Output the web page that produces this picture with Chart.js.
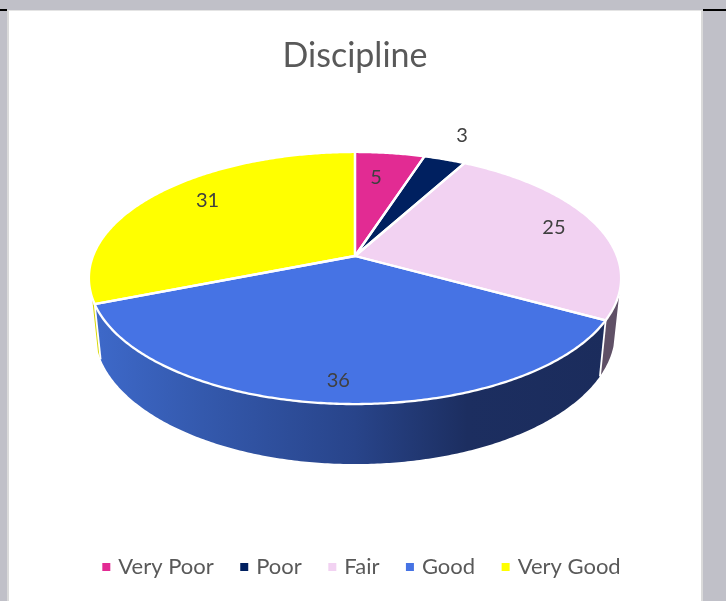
<!DOCTYPE html>
<html>
<head>
<meta charset="utf-8">
<style>
html,body{margin:0;padding:0;width:726px;height:601px;overflow:hidden;background:#c0c0c8;}
#panel{position:absolute;left:7px;top:10px;width:696px;height:591px;background:#fff;box-sizing:border-box;border-left:2px solid #dadada;border-right:2px solid #dadada;border-top:1px solid #e4e4e4;}
.blk{position:absolute;top:9px;height:2px;background:#000;}
canvas{position:absolute;left:0;top:0;}
</style>
<script src="https://cdn.jsdelivr.net/npm/chart.js@4/dist/chart.umd.min.js"></script>
</head>
<body>
<div id="panel"></div>
<div class="blk" style="left:0;width:7px"></div>
<div class="blk" style="left:703px;width:23px"></div>
<canvas id="c" width="726" height="601"></canvas>
<script>
const categories = ['Very Poor', 'Poor', 'Fair', 'Good', 'Very Good'];
const values = [5, 3, 25, 36, 31];
const sliceColors = ['#e22b93', '#002060', '#f2d2f2', '#4673e4', '#ffff00'];
const chartTitle = 'Discipline';

// Perspective of the tilted disc
const apex = {x: 355, y: 256};
const persp = 0.1746;
const topDisc = {B: 262, A: 122.2, dy: 0};
const lowDisc = {B: 256, A: 128, dy: 53};
const sideFrom = 106 * Math.PI / 180, sideTo = 251.5 * Math.PI / 180;

// Per-slice label placement: radial fraction and angular nudge (degrees)
const labelRadius = [0.724, 1.284, 0.826, 0.864, 0.787];
const labelNudge = [-1.8, -0.8, -0.6, 0, 4.8];

function project(disc, t, r) {
  const u = r * Math.sin(t), v = -r * Math.cos(t), d = 1 - persp * v;
  return {x: apex.x + disc.B * u / d, y: apex.y + disc.dy + disc.A * v / d};
}
function rim(ctx, disc, a, b, first) {
  const n = Math.max(2, Math.ceil(Math.abs(b - a) / 0.01));
  for (let i = 0; i <= n; i++) {
    const p = project(disc, a + (b - a) * i / n, 1);
    if (i === 0 && first) ctx.moveTo(p.x, p.y); else ctx.lineTo(p.x, p.y);
  }
}
function sideFill(ctx, color) {
  if (color === '#4673e4') {
    const g = ctx.createLinearGradient(100, 0, 610, 0);
    g.addColorStop(0, '#3d68c8');
    g.addColorStop(0.2, '#3459ad');
    g.addColorStop(0.5, '#28448a');
    g.addColorStop(0.72, '#1c2e60');
    g.addColorStop(1, '#1b2c5c');
    return g;
  }
  if (color === '#f2d2f2') return '#5f5066';
  if (color === '#ffff00') return '#d9d900';
  return color;
}

const disc3d = {
  id: 'disc3d',
  afterLayout(chart) { chart.titleBlock.right -= 16; },
  beforeDatasetDraw(chart, args) {
    const ctx = chart.ctx;
    const arcs = args.meta.data.map((el, i) => {
      const s = el.startAngle + Math.PI / 2, e = el.endAngle + Math.PI / 2;
      return {s, e, color: el.options.backgroundColor};
    });
    ctx.save();
    ctx.lineJoin = 'round';
    // Side wall
    arcs.forEach(a => {
      const s = Math.max(a.s, sideFrom), e = Math.min(a.e, sideTo);
      if (e <= s) return;
      ctx.beginPath();
      rim(ctx, topDisc, s, e, true);
      rim(ctx, lowDisc, e, s, false);
      ctx.closePath();
      ctx.fillStyle = sideFill(ctx, a.color);
      ctx.fill();
    });
    // Seams on the wall
    ctx.strokeStyle = '#ffffff';
    ctx.lineWidth = 1.8;
    arcs.forEach(a => {
      if (a.e > sideFrom && a.e < sideTo) {
        const p = project(topDisc, a.e, 1), q = project(lowDisc, a.e, 1);
        ctx.beginPath(); ctx.moveTo(p.x, p.y); ctx.lineTo(q.x, q.y); ctx.stroke();
      }
    });
    // Top face
    arcs.forEach(a => {
      ctx.beginPath();
      ctx.moveTo(apex.x, apex.y);
      rim(ctx, topDisc, a.s, a.e, false);
      ctx.closePath();
      ctx.fillStyle = a.color;
      ctx.fill();
    });
    arcs.forEach(a => {
      ctx.beginPath();
      ctx.moveTo(apex.x, apex.y);
      rim(ctx, topDisc, a.s, a.e, false);
      ctx.closePath();
      ctx.lineWidth = 2.3;
      ctx.strokeStyle = '#ffffff';
      ctx.stroke();
    });
    ctx.restore();
    return false;
  },
  afterDatasetsDraw(chart) {
    const ctx = chart.ctx;
    const meta = chart.getDatasetMeta(0);
    ctx.save();
    ctx.font = '20px Lato';
    ctx.fillStyle = '#404040';
    ctx.textAlign = 'center';
    ctx.textBaseline = 'middle';
    meta.data.forEach((el, i) => {
      const mid = (el.startAngle + el.endAngle) / 2 + Math.PI / 2 + labelNudge[i] * Math.PI / 180;
      const p = project(topDisc, mid, labelRadius[i]);
      ctx.fillText(String(values[i]), p.x, p.y);
    });
    ctx.restore();
  }
};

new Chart(document.getElementById('c'), {
  type: 'pie',
  data: {
    labels: categories,
    datasets: [{data: values, backgroundColor: sliceColors, borderColor: '#ffffff', borderWidth: 1.5}]
  },
  options: {
    responsive: false,
    animation: false,
    layout: {padding: {top: 26, bottom: 13, left: 0, right: 0}},
    plugins: {
      tooltip: {enabled: false},
      title: {
        display: true,
        text: chartTitle,
        color: '#595959',
        font: {family: 'Lato', size: 34, weight: 'normal'},
        padding: {top: 10, bottom: 10}
      },
      legend: {
        position: 'bottom',
        labels: {
          color: '#595959',
          font: {family: 'Lato', size: 22},
          usePointStyle: true,
          pointStyle: 'rect',
          boxWidth: 2,
          boxHeight: 8,
          padding: 29.5,
          generateLabels(chart) {
            const items = Chart.overrides.doughnut.plugins.legend.labels.generateLabels(chart);
            items.forEach(it => { it.lineWidth = 0; it.pointStyle = 'rect'; });
            return items;
          }
        }
      }
    }
  },
  plugins: [disc3d]
});
</script>
</body>
</html>
